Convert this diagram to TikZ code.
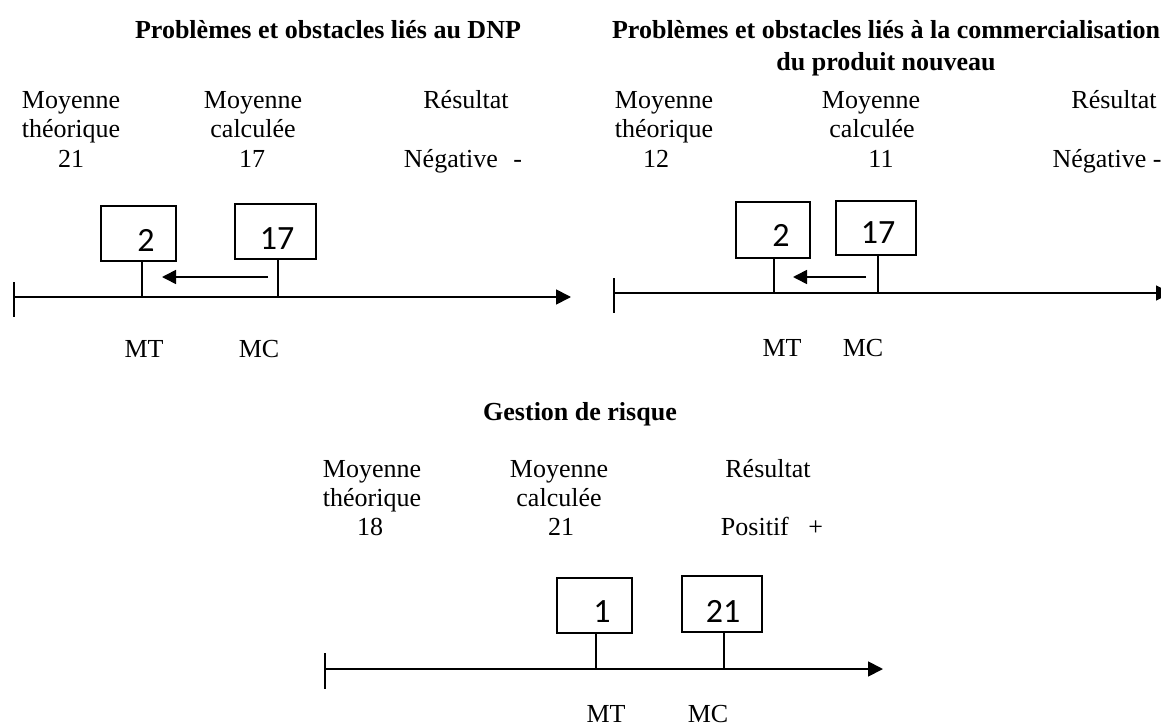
\documentclass[tikz,border=0pt]{standalone}
\usepackage{fontspec}
\setmainfont{Liberation Serif}
\newfontfamily\numfont{Carlito}
\usetikzlibrary{arrows.meta,calc}
\begin{document}
\begin{tikzpicture}[x=1pt,y=-1pt,
  txt/.style={font=\fontsize{26}{30}\selectfont, anchor=base, inner sep=0pt},
  ttl/.style={font=\fontsize{26}{30}\selectfont\bfseries, anchor=base, inner sep=0pt},
  valbox/.style={draw, line width=1.5pt, inner sep=0pt},
  num/.style={font=\numfont\fontsize{34}{34}\selectfont, inner sep=0pt},
  axisline/.style={line width=1.8pt, -{Triangle[length=15pt,width=15pt]}},
  shiftarrow/.style={line width=1.6pt, -{Triangle[length=14pt,width=14pt]}},
  tick/.style={line width=1.5pt}]
\useasboundingbox (0,0) rectangle (1161,727);

% ---------- Panel 1: DNP ----------
\node[ttl] (t1) at (328,39) {Problèmes et obstacles liés au DNP};
\node[txt] (a1) at (71,109) {Moyenne};
\node[txt] (a2) at (71,138) {théorique};
\node[txt] (a3) at (71,168) {21};
\node[txt] (b1) at (253,109) {Moyenne};
\node[txt] (b2) at (253,138) {calculée};
\node[txt] (b3) at (252,168) {17};
\node[txt] (c1) at (466,109) {Résultat};
\node[txt] (c3) at (463,168) {Négative\hspace{0.35em} -};

\node[valbox, minimum width=75pt, minimum height=55pt] (p1mt) at (138.5,233.5) {};
\node[num] (p1mtn) at (146,240) {2};
\node[valbox, minimum width=81pt, minimum height=55pt] (p1mc) at (275.5,231.5) {};
\node[num] (p1mcn) at (277,239) {17};

\coordinate (o1) at (14,297);
\coordinate (e1) at (571,297);
\coordinate (mt1) at (142,297);
\coordinate (mc1) at (278,297);
\coordinate (s1) at (268,277);
\coordinate (d1) at (162,277);
\draw[axisline] (o1) -- (e1);
\draw[tick] ($(o1)+(0,-15)$) -- ($(o1)+(0,20)$);
\draw[tick] (mt1 |- p1mt.south) -- (mt1);
\draw[tick] (mc1 |- p1mc.south) -- (mc1);
\draw[shiftarrow] (s1) -- (d1);
\node[txt] (l1mt) at (144,357) {MT};
\node[txt] (l1mc) at (259,357) {MC};

% ---------- Panel 2: commercialisation ----------
\node[ttl] (t2a) at (886,39) {Problèmes et obstacles liés à la commercialisation};
\node[ttl] (t2b) at (886,71) {du produit nouveau};
\node[txt] (f1) at (664,109) {Moyenne};
\node[txt] (f2) at (664,138) {théorique};
\node[txt] (f3) at (656,168) {12};
\node[txt] (g1) at (871,109) {Moyenne};
\node[txt] (g2) at (872,138) {calculée};
\node[txt] (g3) at (881,168) {11};
\node[txt] (h1) at (1114,109) {Résultat};
\node[txt] (h3) at (1107,168) {Négative -};

\node[valbox, minimum width=74pt, minimum height=56pt] (p2mt) at (773,230) {};
\node[num] (p2mtn) at (781,235) {2};
\node[valbox, minimum width=80pt, minimum height=54pt] (p2mc) at (876,228) {};
\node[num] (p2mcn) at (878,233) {17};

\coordinate (o2) at (614,293);
\coordinate (e2) at (1171,293);
\coordinate (mt2) at (774,293);
\coordinate (mc2) at (878,293);
\coordinate (s2) at (866,277);
\coordinate (d2) at (793,277);
\draw[axisline] (o2) -- (e2);
\draw[tick] ($(o2)+(0,-15)$) -- ($(o2)+(0,20)$);
\draw[tick] (mt2 |- p2mt.south) -- (mt2);
\draw[tick] (mc2 |- p2mc.south) -- (mc2);
\draw[shiftarrow] (s2) -- (d2);
\node[txt] (l2mt) at (782,356) {MT};
\node[txt] (l2mc) at (863,356) {MC};

% ---------- Panel 3: gestion de risque ----------
\node[ttl] (t3) at (580,420) {Gestion de risque};
\node[txt] (k1) at (372,477) {Moyenne};
\node[txt] (k2) at (372,506) {théorique};
\node[txt] (k3) at (370,535) {18};
\node[txt] (m1) at (559,477) {Moyenne};
\node[txt] (m2) at (559,506) {calculée};
\node[txt] (m3) at (561,535) {21};
\node[txt] (r1) at (768,477) {Résultat};
\node[txt] (r3) at (772,535) {Positif\hspace{0.5em} +};

\node[valbox, minimum width=75pt, minimum height=55pt] (p3mt) at (594.5,605.5) {};
\node[num] (p3mtn) at (602,612) {1};
\node[valbox, minimum width=80pt, minimum height=56pt] (p3mc) at (722,604) {};
\node[num] (p3mcn) at (723,611) {21};

\coordinate (o3) at (325,669);
\coordinate (e3) at (883,669);
\coordinate (mt3) at (596,669);
\coordinate (mc3) at (724,669);
\draw[axisline] (o3) -- (e3);
\draw[tick] ($(o3)+(0,-16)$) -- ($(o3)+(0,20)$);
\draw[tick] (mt3 |- p3mt.south) -- (mt3);
\draw[tick] (mc3 |- p3mc.south) -- (mc3);
\node[txt] (l3mt) at (606,722) {MT};
\node[txt] (l3mc) at (708,722) {MC};
\end{tikzpicture}
\end{document}
